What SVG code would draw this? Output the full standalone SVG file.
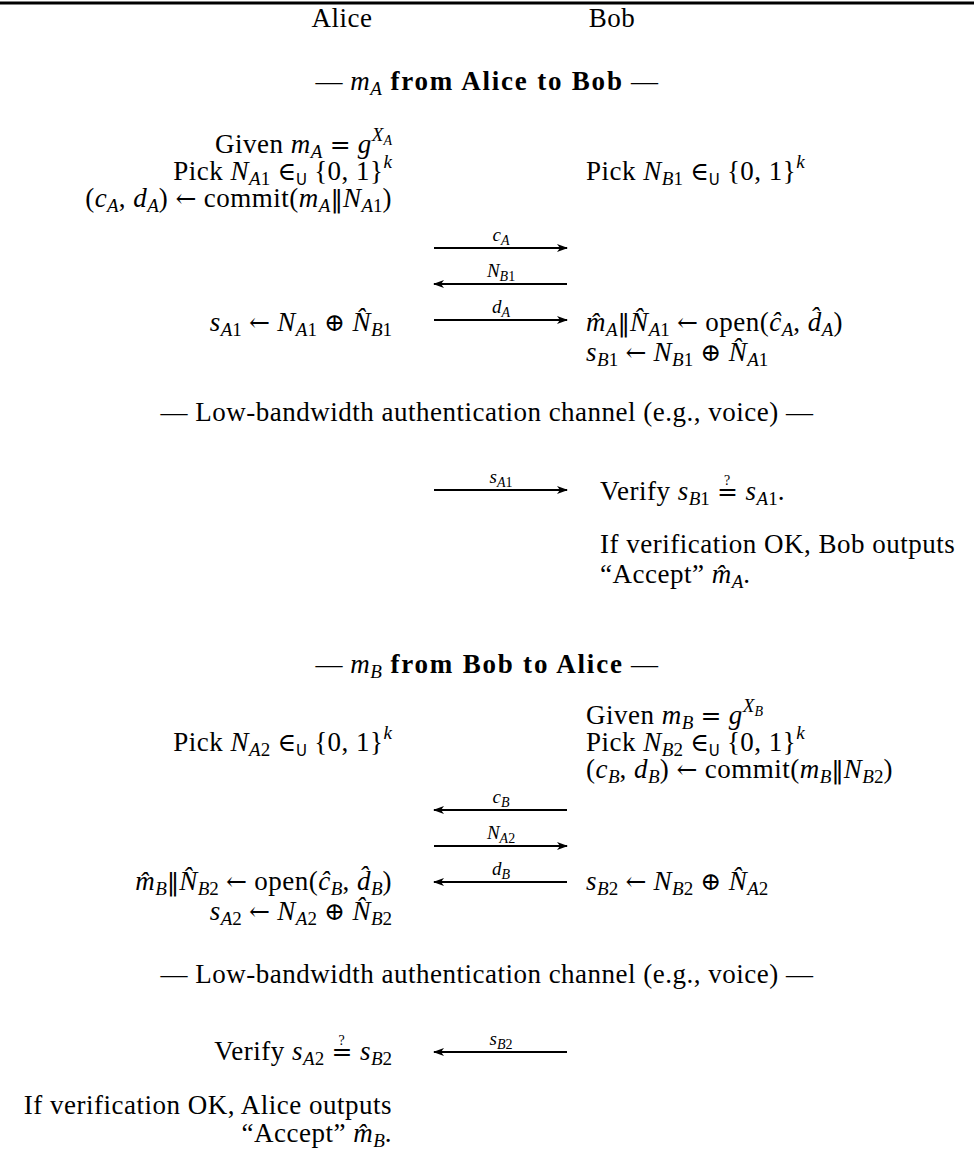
<svg xmlns="http://www.w3.org/2000/svg" width="974" height="1160" viewBox="0 0 974 1160">
<style>
.t{font-family:"Liberation Serif","DejaVu Serif",serif;font-size:27px;letter-spacing:0.5px;fill:#000}
.i{font-style:italic}
.s{font-size:19px;letter-spacing:0}
.ss{font-size:14px;letter-spacing:0}
.b{font-weight:bold;letter-spacing:1.8px}
.r{font-family:"DejaVu Serif","DejaVu Sans",serif;font-size:25px;font-style:normal;letter-spacing:0}
.u{font-family:"DejaVu Sans","Liberation Sans",sans-serif;font-size:15px;letter-spacing:0}
.l{font-family:"Liberation Serif","DejaVu Serif",serif;font-size:19px;font-style:italic;fill:#000}
.ar{stroke:#000;stroke-width:1.8;fill:none}
</style>
<defs>
<marker id="ah" viewBox="0 0 11 8" refX="10" refY="4" markerWidth="11" markerHeight="8" markerUnits="userSpaceOnUse" orient="auto">
<path d="M0,0 L11,4 L0,8 L3,4 Z" fill="#000"/>
</marker>
</defs>
<rect width="974" height="1160" fill="#fff"/>
<line x1="0" y1="3" x2="974" y2="3" stroke="#000" stroke-width="3"/>

<g id="header">
<text class="t" x="342" y="27" text-anchor="middle">Alice</text>
<text class="t" x="612" y="27" text-anchor="middle">Bob</text>
</g>

<g id="title1">
<text class="t" x="487" y="90" text-anchor="middle">— <tspan class="i">m</tspan><tspan class="s i" dy="5">A</tspan><tspan class="b" dy="-5"> from Alice to Bob</tspan> —</text>
</g>

<g id="alice1">
<text class="t" x="392" y="153" text-anchor="end">Given <tspan class="i">m</tspan><tspan class="s i" dy="5">A</tspan><tspan dy="-5"> </tspan><tspan class="r">=</tspan> <tspan class="i">g</tspan><tspan class="s i" dy="-12">X</tspan><tspan class="ss i" dy="4">A</tspan></text>
<text class="t" x="392" y="180" text-anchor="end">Pick <tspan class="i">N</tspan><tspan class="s" dy="5"><tspan class="i">A</tspan>1</tspan><tspan dy="-5"> </tspan><tspan class="r">∈</tspan><tspan class="u" dy="5">U</tspan><tspan dy="-5"> {0, 1}</tspan><tspan class="s i" dy="-12">k</tspan></text>
<text class="t" x="392" y="207" text-anchor="end">(<tspan class="i">c</tspan><tspan class="s i" dy="5">A</tspan><tspan dy="-5">, </tspan><tspan class="i">d</tspan><tspan class="s i" dy="5">A</tspan><tspan dy="-5">) </tspan><tspan class="r">←</tspan> commit(<tspan class="i">m</tspan><tspan class="s i" dy="5">A</tspan><tspan class="r" dy="-5">‖</tspan><tspan class="i">N</tspan><tspan class="s" dy="5"><tspan class="i">A</tspan>1</tspan><tspan dy="-5">)</tspan></text>
<text class="t" x="392" y="331" text-anchor="end"><tspan class="i">s</tspan><tspan class="s" dy="5"><tspan class="i">A</tspan>1</tspan><tspan dy="-5"> </tspan><tspan class="r">←</tspan> <tspan class="i">N</tspan><tspan class="s" dy="5"><tspan class="i">A</tspan>1</tspan><tspan dy="-5"> </tspan><tspan class="r">⊕</tspan> <tspan class="i">N̂</tspan><tspan class="s" dy="5"><tspan class="i">B</tspan>1</tspan></text>
</g>

<g id="bob1">
<text class="t" x="586" y="180">Pick <tspan class="i">N</tspan><tspan class="s" dy="5"><tspan class="i">B</tspan>1</tspan><tspan dy="-5"> </tspan><tspan class="r">∈</tspan><tspan class="u" dy="5">U</tspan><tspan dy="-5"> {0, 1}</tspan><tspan class="s i" dy="-12">k</tspan></text>
<text class="t" x="586" y="331"><tspan class="i">m̂</tspan><tspan class="s i" dy="5">A</tspan><tspan class="r" dy="-5">‖</tspan><tspan class="i">N̂</tspan><tspan class="s" dy="5"><tspan class="i">A</tspan>1</tspan><tspan dy="-5"> </tspan><tspan class="r">←</tspan> open(<tspan class="i">ĉ</tspan><tspan class="s i" dy="5">A</tspan><tspan dy="-5">, </tspan><tspan class="i">d̂</tspan><tspan class="s i" dy="5">A</tspan><tspan dy="-5">)</tspan></text>
<text class="t" x="586" y="361"><tspan class="i">s</tspan><tspan class="s" dy="5"><tspan class="i">B</tspan>1</tspan><tspan dy="-5"> </tspan><tspan class="r">←</tspan> <tspan class="i">N</tspan><tspan class="s" dy="5"><tspan class="i">B</tspan>1</tspan><tspan dy="-5"> </tspan><tspan class="r">⊕</tspan> <tspan class="i">N̂</tspan><tspan class="s" dy="5"><tspan class="i">A</tspan>1</tspan></text>
</g>

<g id="channel1">
<text class="t" x="487" y="421" text-anchor="middle">— Low-bandwidth authentication channel (e.g., voice) —</text>
</g>

<g id="verify1">
<text class="t" x="600" y="500">Verify <tspan class="i">s</tspan><tspan class="s" dy="5"><tspan class="i">B</tspan>1</tspan><tspan dy="-5"> </tspan><tspan class="r">=</tspan><tspan class="ss" dx="-14" dy="-15">?</tspan><tspan dx="8" dy="15"> </tspan><tspan class="i">s</tspan><tspan class="s" dy="5"><tspan class="i">A</tspan>1</tspan><tspan dy="-5">.</tspan></text>
<text class="t" x="600" y="553">If verification OK, Bob outputs</text>
<text class="t" x="600" y="583">“Accept” <tspan class="i">m̂</tspan><tspan class="s i" dy="5">A</tspan><tspan dy="-5">.</tspan></text>
</g>

<g id="title2">
<text class="t" x="487" y="673" text-anchor="middle">— <tspan class="i">m</tspan><tspan class="s i" dy="5">B</tspan><tspan class="b" dy="-5"> from Bob to Alice</tspan> —</text>
</g>

<g id="bob2">
<text class="t" x="586" y="724">Given <tspan class="i">m</tspan><tspan class="s i" dy="5">B</tspan><tspan dy="-5"> </tspan><tspan class="r">=</tspan> <tspan class="i">g</tspan><tspan class="s i" dy="-12">X</tspan><tspan class="ss i" dy="4">B</tspan></text>
<text class="t" x="586" y="751">Pick <tspan class="i">N</tspan><tspan class="s" dy="5"><tspan class="i">B</tspan>2</tspan><tspan dy="-5"> </tspan><tspan class="r">∈</tspan><tspan class="u" dy="5">U</tspan><tspan dy="-5"> {0, 1}</tspan><tspan class="s i" dy="-12">k</tspan></text>
<text class="t" x="586" y="778">(<tspan class="i">c</tspan><tspan class="s i" dy="5">B</tspan><tspan dy="-5">, </tspan><tspan class="i">d</tspan><tspan class="s i" dy="5">B</tspan><tspan dy="-5">) </tspan><tspan class="r">←</tspan> commit(<tspan class="i">m</tspan><tspan class="s i" dy="5">B</tspan><tspan class="r" dy="-5">‖</tspan><tspan class="i">N</tspan><tspan class="s" dy="5"><tspan class="i">B</tspan>2</tspan><tspan dy="-5">)</tspan></text>
<text class="t" x="586" y="890"><tspan class="i">s</tspan><tspan class="s" dy="5"><tspan class="i">B</tspan>2</tspan><tspan dy="-5"> </tspan><tspan class="r">←</tspan> <tspan class="i">N</tspan><tspan class="s" dy="5"><tspan class="i">B</tspan>2</tspan><tspan dy="-5"> </tspan><tspan class="r">⊕</tspan> <tspan class="i">N̂</tspan><tspan class="s" dy="5"><tspan class="i">A</tspan>2</tspan></text>
</g>

<g id="alice2">
<text class="t" x="392" y="751" text-anchor="end">Pick <tspan class="i">N</tspan><tspan class="s" dy="5"><tspan class="i">A</tspan>2</tspan><tspan dy="-5"> </tspan><tspan class="r">∈</tspan><tspan class="u" dy="5">U</tspan><tspan dy="-5"> {0, 1}</tspan><tspan class="s i" dy="-12">k</tspan></text>
<text class="t" x="392" y="890" text-anchor="end"><tspan class="i">m̂</tspan><tspan class="s i" dy="5">B</tspan><tspan class="r" dy="-5">‖</tspan><tspan class="i">N̂</tspan><tspan class="s" dy="5"><tspan class="i">B</tspan>2</tspan><tspan dy="-5"> </tspan><tspan class="r">←</tspan> open(<tspan class="i">ĉ</tspan><tspan class="s i" dy="5">B</tspan><tspan dy="-5">, </tspan><tspan class="i">d̂</tspan><tspan class="s i" dy="5">B</tspan><tspan dy="-5">)</tspan></text>
<text class="t" x="392" y="920" text-anchor="end"><tspan class="i">s</tspan><tspan class="s" dy="5"><tspan class="i">A</tspan>2</tspan><tspan dy="-5"> </tspan><tspan class="r">←</tspan> <tspan class="i">N</tspan><tspan class="s" dy="5"><tspan class="i">A</tspan>2</tspan><tspan dy="-5"> </tspan><tspan class="r">⊕</tspan> <tspan class="i">N̂</tspan><tspan class="s" dy="5"><tspan class="i">B</tspan>2</tspan></text>
</g>

<g id="channel2">
<text class="t" x="487" y="983" text-anchor="middle">— Low-bandwidth authentication channel (e.g., voice) —</text>
</g>

<g id="verify2">
<text class="t" x="392" y="1060" text-anchor="end">Verify <tspan class="i">s</tspan><tspan class="s" dy="5"><tspan class="i">A</tspan>2</tspan><tspan dy="-5"> </tspan><tspan class="r">=</tspan><tspan class="ss" dx="-14" dy="-15">?</tspan><tspan dx="8" dy="15"> </tspan><tspan class="i">s</tspan><tspan class="s" dy="5"><tspan class="i">B</tspan>2</tspan></text>
<text class="t" x="392" y="1114" text-anchor="end">If verification OK, Alice outputs</text>
<text class="t" x="392" y="1142" text-anchor="end">“Accept” <tspan class="i">m̂</tspan><tspan class="s i" dy="5">B</tspan><tspan dy="-5">.</tspan></text>
</g>

<g id="connectors">
<line class="ar" x1="434" y1="248" x2="567" y2="248" marker-end="url(#ah)"/>
<text class="l" x="501" y="241" text-anchor="middle"><tspan>c</tspan><tspan class="ss" dy="4">A</tspan></text>
<line class="ar" x1="567" y1="284" x2="434" y2="284" marker-end="url(#ah)"/>
<text class="l" x="501" y="277" text-anchor="middle"><tspan>N</tspan><tspan class="ss" dy="4">B<tspan font-style="normal">1</tspan></tspan></text>
<line class="ar" x1="434" y1="320" x2="567" y2="320" marker-end="url(#ah)"/>
<text class="l" x="501" y="313" text-anchor="middle"><tspan>d</tspan><tspan class="ss" dy="4">A</tspan></text>

<line class="ar" x1="434" y1="490" x2="567" y2="490" marker-end="url(#ah)"/>
<text class="l" x="501" y="483" text-anchor="middle"><tspan>s</tspan><tspan class="ss" dy="4">A<tspan font-style="normal">1</tspan></tspan></text>

<line class="ar" x1="567" y1="810" x2="434" y2="810" marker-end="url(#ah)"/>
<text class="l" x="501" y="803" text-anchor="middle"><tspan>c</tspan><tspan class="ss" dy="4">B</tspan></text>
<line class="ar" x1="434" y1="846" x2="567" y2="846" marker-end="url(#ah)"/>
<text class="l" x="501" y="839" text-anchor="middle"><tspan>N</tspan><tspan class="ss" dy="4">A<tspan font-style="normal">2</tspan></tspan></text>
<line class="ar" x1="567" y1="882" x2="434" y2="882" marker-end="url(#ah)"/>
<text class="l" x="501" y="875" text-anchor="middle"><tspan>d</tspan><tspan class="ss" dy="4">B</tspan></text>

<line class="ar" x1="567" y1="1052" x2="434" y2="1052" marker-end="url(#ah)"/>
<text class="l" x="501" y="1045" text-anchor="middle"><tspan>s</tspan><tspan class="ss" dy="4">B<tspan font-style="normal">2</tspan></tspan></text>
</g>
</svg>
